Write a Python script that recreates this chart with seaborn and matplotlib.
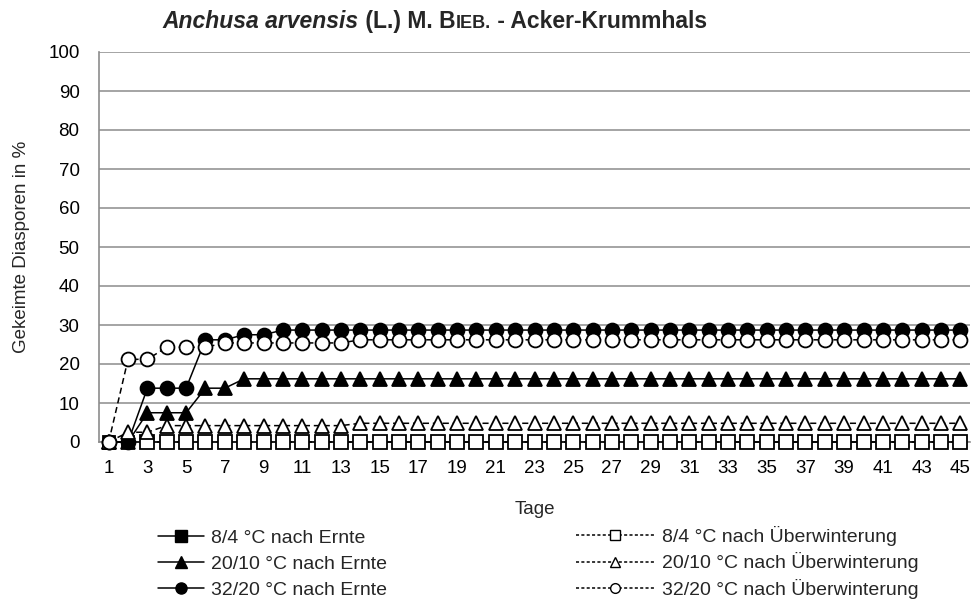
import numpy as np
import pandas as pd
import matplotlib
matplotlib.use("Agg")
import matplotlib.pyplot as plt
import seaborn as sns
from matplotlib.lines import Line2D

nan = np.nan
days = list(range(1, 46))

ernte_8_4 = [0, 0, 0, 0, 0, 0, 0, 0, 0, 0, 0, 0, 0, 0, 0, 0, 0, 0, 0, 0, 0, 0, 0,
             0, 0, 0, 0, 0, 0, 0, 0, 0, 0, 0, 0, 0, 0, 0, 0, 0, 0, 0, 0, 0, 0]
ernte_20_10 = [0, 0, 7.5, 7.5, 7.5, 13.8, 13.8, 16.2, 16.2, 16.2, 16.2, 16.2, 16.2, 16.2,
               16.2, 16.2, 16.2, 16.2, 16.2, 16.2, 16.2, 16.2, 16.2, 16.2, 16.2, 16.2,
               16.2, 16.2, 16.2, 16.2, 16.2, 16.2, 16.2, 16.2, 16.2, 16.2, 16.2, 16.2,
               16.2, 16.2, 16.2, 16.2, 16.2, 16.2, 16.2]
ernte_32_20 = [0, 0, 13.8, 13.8, 13.8, 26.2, 26.2, 27.5, 27.5, 28.7, 28.7, 28.7, 28.7,
               28.7, 28.7, 28.7, 28.7, 28.7, 28.7, 28.7, 28.7, 28.7, 28.7, 28.7, 28.7,
               28.7, 28.7, 28.7, 28.7, 28.7, 28.7, 28.7, 28.7, 28.7, 28.7, 28.7, 28.7,
               28.7, 28.7, 28.7, 28.7, 28.7, 28.7, 28.7, 28.7]
uew_8_4 = [nan, nan, 0, 0, 0, 0, 0, 0, 0, 0, 0, 0, 0, 0, 0, 0, 0, 0, 0, 0, 0, 0, 0,
           0, 0, 0, 0, 0, 0, 0, 0, 0, 0, 0, 0, 0, 0, 0, 0, 0, 0, 0, 0, 0, 0]
uew_20_10 = [0, 2.5, 2.5, 4.2, 4.2, 4.2, 4.2, 4.2, 4.2, 4.2, 4.2, 4.2, 4.2, 4.8, 4.8,
             4.8, 4.8, 4.8, 4.8, 4.8, 4.8, 4.8, 4.8, 4.8, 4.8, 4.8, 4.8, 4.8, 4.8, 4.8,
             4.8, 4.8, 4.8, 4.8, 4.8, 4.8, 4.8, 4.8, 4.8, 4.8, 4.8, 4.8, 4.8, 4.8, 4.8]
uew_32_20 = [0, 21.2, 21.2, 24.3, 24.3, 24.3, 25.4, 25.4, 25.4, 25.4, 25.4, 25.4, 25.4,
             26.2, 26.2, 26.2, 26.2, 26.2, 26.2, 26.2, 26.2, 26.2, 26.2, 26.2, 26.2,
             26.2, 26.2, 26.2, 26.2, 26.2, 26.2, 26.2, 26.2, 26.2, 26.2, 26.2, 26.2,
             26.2, 26.2, 26.2, 26.2, 26.2, 26.2, 26.2, 26.2]

labels = ["8/4 °C nach Ernte", "20/10 °C nach Ernte", "32/20 °C nach Ernte",
          "8/4 °C nach Überwinterung", "20/10 °C nach Überwinterung",
          "32/20 °C nach Überwinterung"]
series = [ernte_8_4, ernte_20_10, ernte_32_20, uew_8_4, uew_20_10, uew_32_20]
y_ticks = [0, 10, 20, 30, 40, 50, 60, 70, 80, 90, 100]
x_ticklabels = [str(d) for d in range(1, 46, 2)]

sns.set_style("white")
plt.rcParams["font.family"] = ["Liberation Sans", "DejaVu Sans"]

styles = [
    dict(marker="s", mfc="black", ls="-", ms=9),
    dict(marker="^", mfc="black", ls="-", ms=9.5),
    dict(marker="o", mfc="black", ls="-", ms=10),
    dict(marker="s", mfc="white", ls=(0, (4, 2.5)), ms=9.5),
    dict(marker="^", mfc="white", ls=(0, (4, 2.5)), ms=9.5),
    dict(marker="o", mfc="white", ls=(0, (4, 2.5)), ms=10),
]

W, H = 975, 601
fig = plt.figure(figsize=(W / 100, H / 100), dpi=100)
ax = fig.add_axes([99 / W, 1 - 442 / H, (970 - 99) / W, (442 - 52) / H])

for vals, st in zip(series, styles):
    sns.lineplot(x=days, y=vals, ax=ax, color="black", linewidth=1.1,
                 linestyle=st["ls"], marker=st["marker"], markersize=st["ms"],
                 markerfacecolor=st["mfc"], markeredgecolor="black",
                 markeredgewidth=1.3, legend=False)

gray = "#8c8c8c"
ax.set_xlim(0.5, 45.5)
ax.set_ylim(0, 100)
ax.set_yticks(y_ticks)
ax.set_yticklabels([str(v) for v in y_ticks])
ax.set_xticks(list(range(1, 46, 2)))
ax.set_xticklabels(x_ticklabels)
ax.set_xticks(np.arange(0.5, 46, 1.0), minor=True)
ax.tick_params(axis="x", which="major", length=0, labelsize=13.5, pad=13, colors="black")
ax.tick_params(axis="x", which="minor", length=5, width=1, color=gray, direction="out")
ax.tick_params(axis="y", which="major", length=5, width=1, color=gray, labelsize=13.5,
               pad=9, labelcolor="black")
for s in ["top", "right"]:
    ax.spines[s].set_visible(False)
for s in ["left", "bottom"]:
    ax.spines[s].set_color(gray)
    ax.spines[s].set_linewidth(1.2)
ax.yaxis.grid(True, color=gray, linewidth=1.1)
ax.set_axisbelow(True)
for line in ax.get_lines():
    line.set_zorder(3)
    line.set_clip_on(False)
ax.set_xlabel("Tage", fontsize=13.5, labelpad=17)
ax.set_ylabel("Gekeimte Diasporen in %", fontsize=13.5, labelpad=13)

# title with mixed styles
fig.canvas.draw()
renderer = fig.canvas.get_renderer()
pieces = [("Anchusa arvensis", dict(weight="bold", style="italic", size=16.5)),
          (" (L.) M. B", dict(weight="bold", size=16.5)),
          ("IEB.", dict(weight="bold", size=13)),
          (" - Acker-Krummhals", dict(weight="bold", size=16.5))]
texts = []
for s, kw in pieces:
    t = fig.text(0, 1 - 28 / H, s, ha="left", va="baseline", **kw)
    texts.append(t)
widths = [t.get_window_extent(renderer).width for t in texts]
total = sum(widths)
x0 = 435 - total / 2
for t, w in zip(texts, widths):
    t.set_x(x0 / W)
    x0 += w

def handles(idx):
    hs = []
    for i in idx:
        st = styles[i]
        ls = "-" if i < 3 else (0, (2, 1.5))
        hs.append(Line2D([0], [0], color="black", linewidth=1.1, linestyle=ls,
                         marker=st["marker"], markersize=8 if i < 3 else 7,
                         markerfacecolor=st["mfc"], markeredgecolor="black",
                         markeredgewidth=1.0))
    return hs

leg1 = fig.legend(handles(range(3)), labels[:3], loc="upper left",
                  bbox_to_anchor=(158 / W, 1 - 529 / H), frameon=False,
                  fontsize=14, handlelength=2.35, handletextpad=0.4,
                  labelspacing=0.44, borderaxespad=0, borderpad=0)
leg2 = fig.legend(handles(range(3, 6)), labels[3:], loc="upper left",
                  bbox_to_anchor=(576 / W, 1 - 526 / H), frameon=False,
                  fontsize=14, handlelength=4.0, handletextpad=0.4,
                  labelspacing=0.33, borderaxespad=0, borderpad=0)

fig.savefig("out.png", dpi=100)
